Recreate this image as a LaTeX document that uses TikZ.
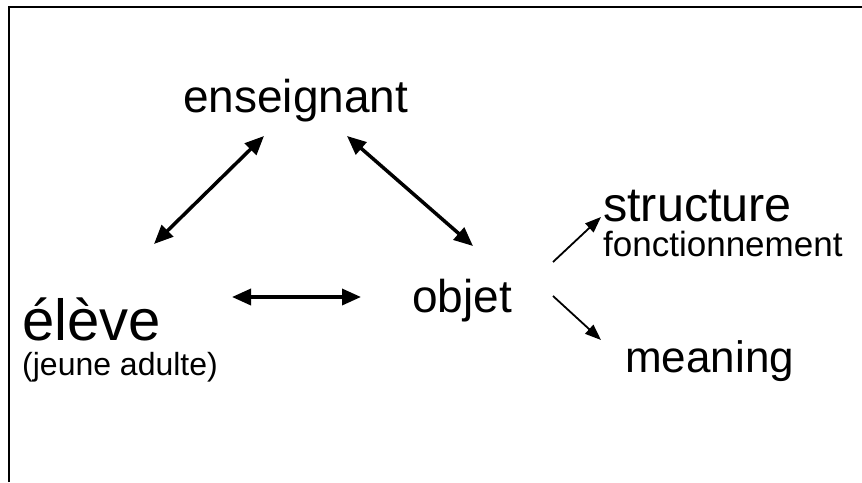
\documentclass[tikz,border=0pt]{standalone}
\usepackage{fontspec}
\setmainfont{Liberation Sans}
\usetikzlibrary{arrows.meta}
\begin{document}
\begin{tikzpicture}[x=1pt,y=-1pt,
  big/.style={anchor=base west,inner sep=0pt,font=\fontsize{46}{50}\selectfont},
  small/.style={anchor=base west,inner sep=0pt,font=\fontsize{32}{36}\selectfont},
  thick arrow/.style={line width=3.5pt,{Triangle[length=19pt,width=16pt]}-{Triangle[length=19pt,width=16pt]}},
  thin arrow/.style={line width=1.8pt,-{Triangle[length=16pt,width=12pt]}}]
\useasboundingbox (0,0) rectangle (862,482);
\draw[line width=2pt] (8.5,482) -- (8.5,6.5) -- (862,6.5);
\node[big] (ens) at (183,112) {enseignant};
\node[big,font=\fontsize{58}{62}\selectfont] (eleve) at (22,340) {élève};
\node[small] (jeune) at (22,375) {(jeune adulte)};
\node[big] (objet) at (412,312) {objet};
\node[big,font=\fontsize{48.5}{52}\selectfont] (struct) at (603,221) {structure};
\node[small,font=\fontsize{35}{38}\selectfont] (fonct) at (603,256) {fonctionnement};
\node[big,font=\fontsize{44}{48}\selectfont] (mean) at (625,372) {meaning};
\coordinate (e1) at (264,136);
\coordinate (e2) at (154,244);
\coordinate (e3) at (347,136);
\coordinate (e4) at (473,246);
\coordinate (e5) at (232,297);
\coordinate (e6) at (361,297);
\coordinate (o1) at (553,262);
\coordinate (o2) at (601,217);
\coordinate (o3) at (553,296);
\coordinate (o4) at (601,340);
\draw[thick arrow] (e1) -- (e2);
\draw[thick arrow] (e3) -- (e4);
\draw[thick arrow] (e5) -- (e6);
\draw[thin arrow] (o1) -- (o2);
\draw[thin arrow] (o3) -- (o4);
\end{tikzpicture}
\end{document}
